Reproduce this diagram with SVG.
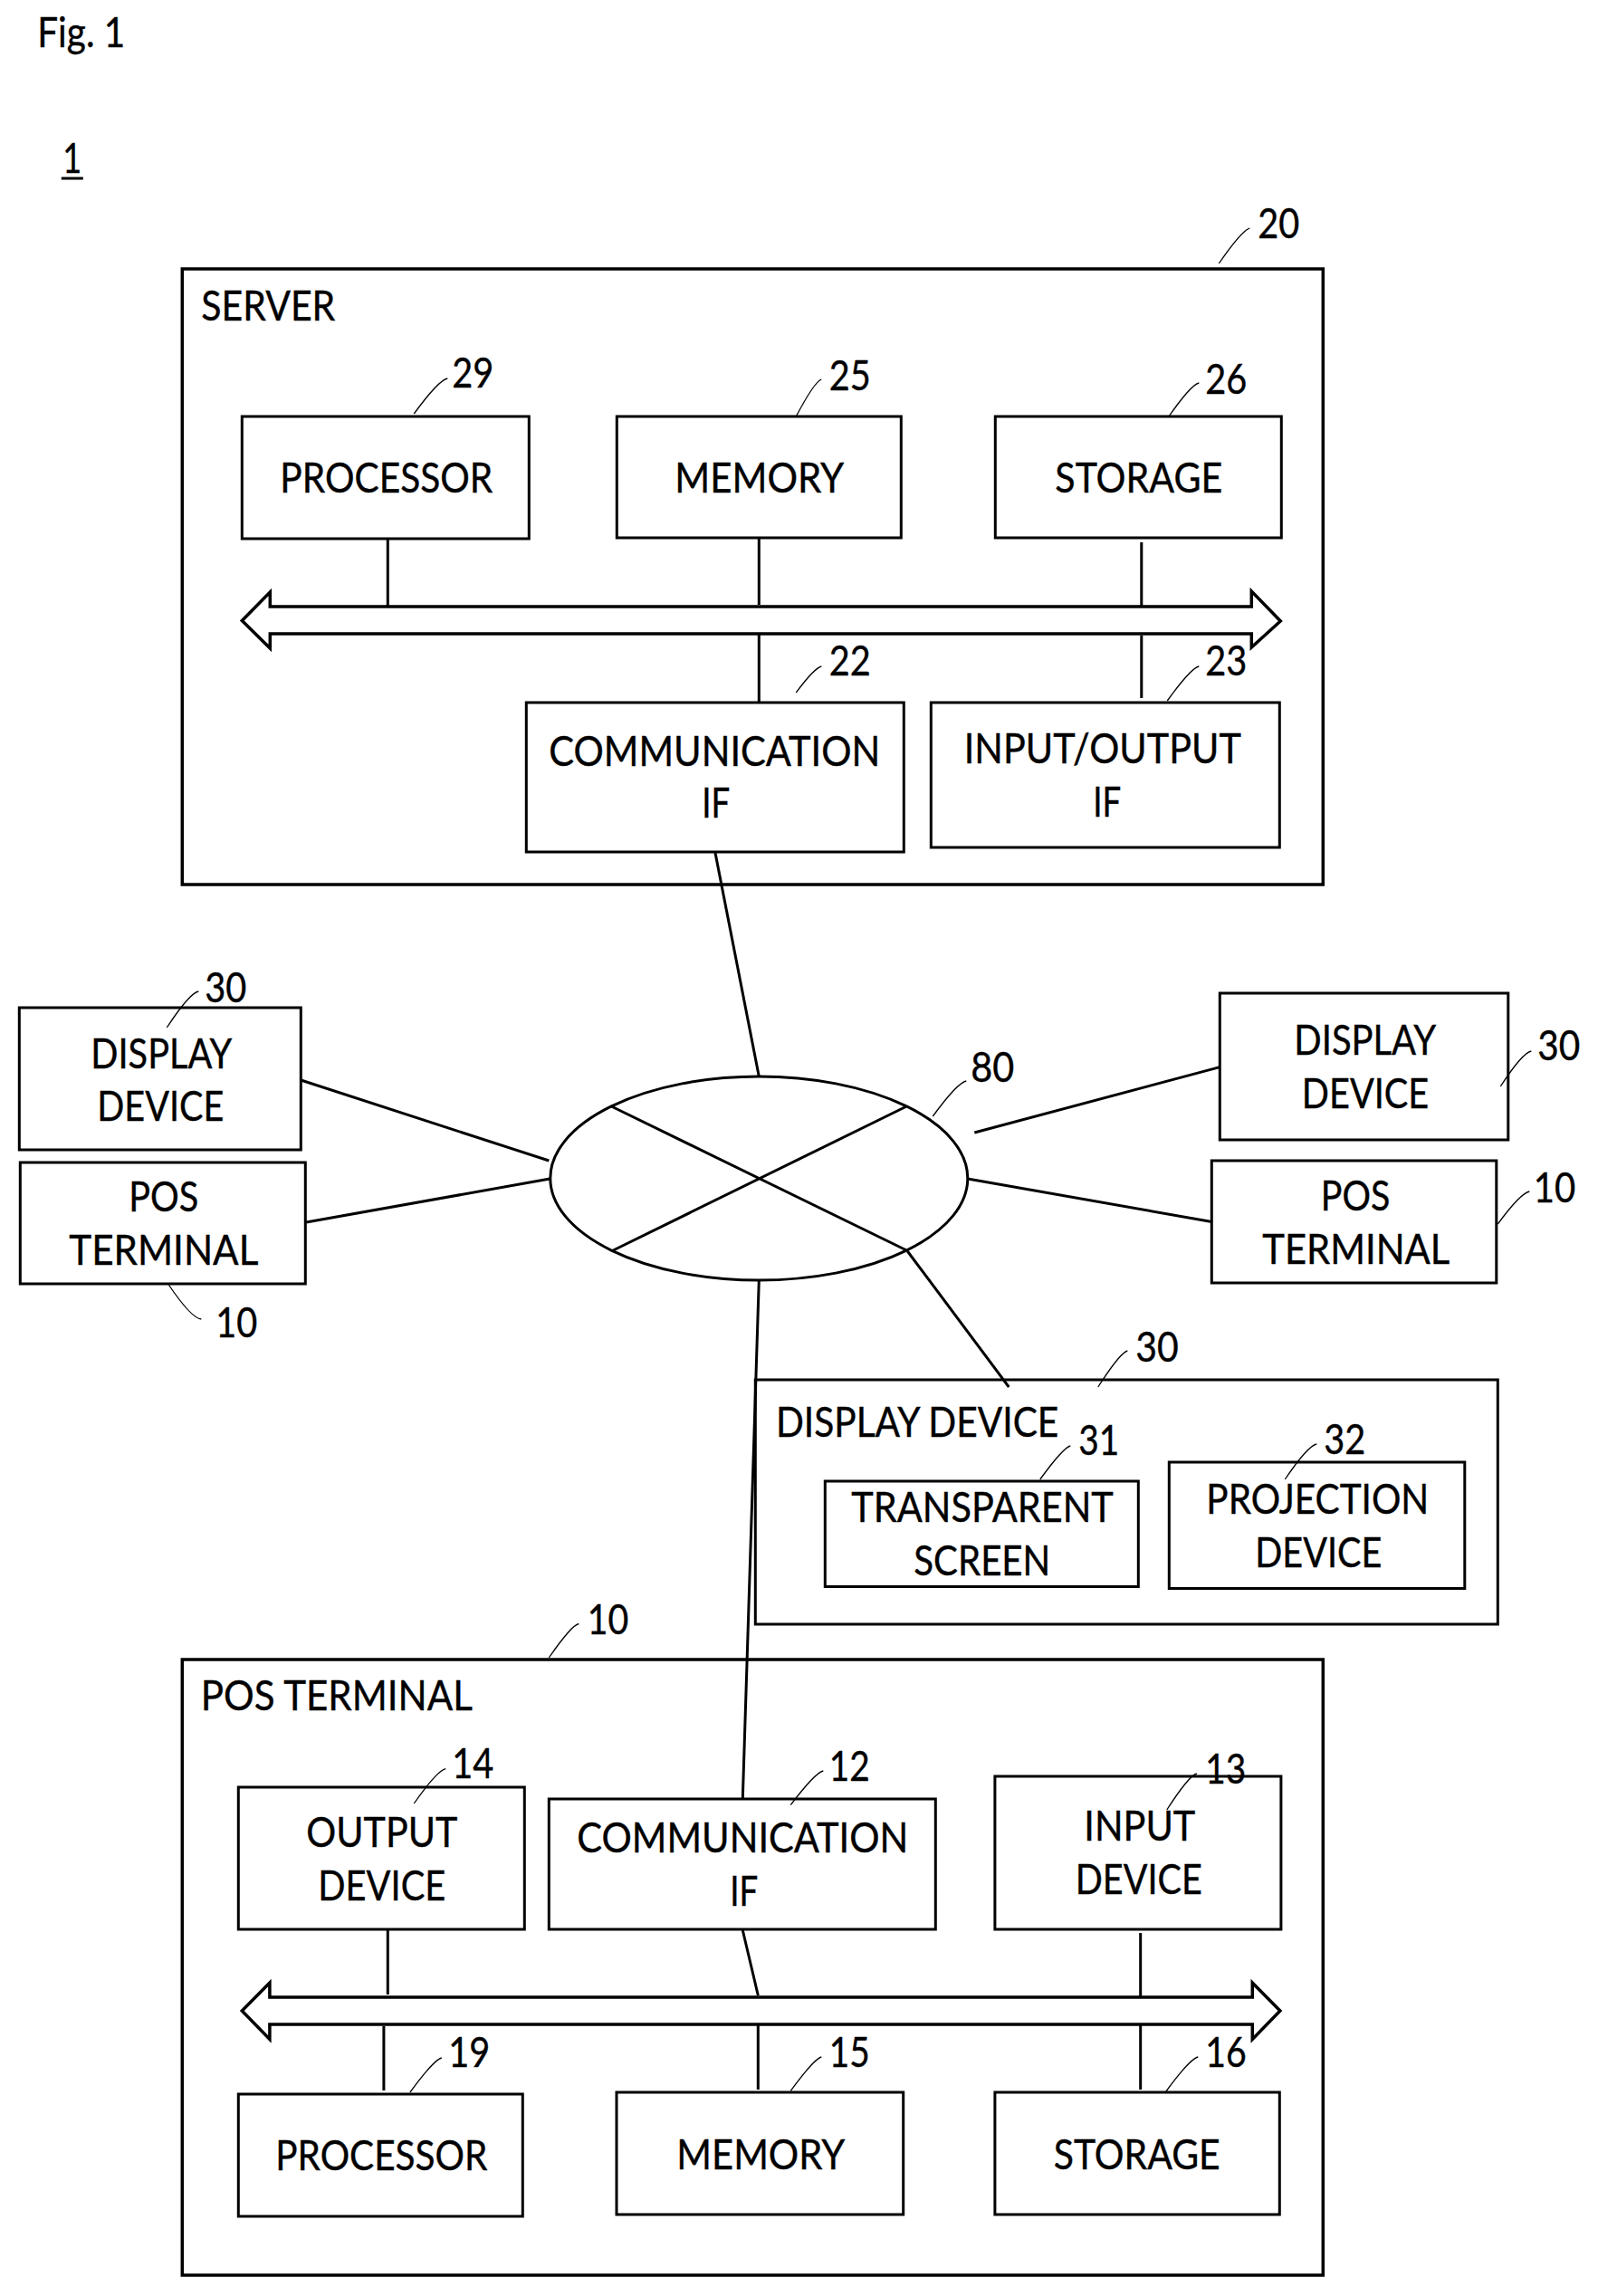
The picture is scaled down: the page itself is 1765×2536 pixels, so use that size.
<svg xmlns="http://www.w3.org/2000/svg" width="1765" height="2536" viewBox="0 0 1765 2536">
<style>
text{font-family:"Lato","Liberation Sans",sans-serif;font-size:46px;fill:#000;stroke:#000;stroke-width:.4;transform:translate(1px,1px)}
.b{fill:#fff;stroke:#000;stroke-width:3}
.o{fill:none;stroke:#000;stroke-width:3.5}
.c{fill:none;stroke:#000;stroke-width:3}
.l{fill:none;stroke:#000;stroke-width:1.3}
.bus{fill:#fff;stroke:#000;stroke-width:3.5}
</style>
<rect width="1765" height="2536" fill="#fff"/>
<g transform="translate(-0.7 0)">
<g id="captions">
<text x="41" y="51" textLength="97" lengthAdjust="spacingAndGlyphs">Fig. 1</text>
<text x="69" y="190" textLength="21" lengthAdjust="spacingAndGlyphs">1</text>
<path class="c" d="M68.500 197H92.500"/>
</g>
<g id="server">
<rect class="o" x="202" y="297" width="1260" height="680"/>
<text x="222" y="353" textLength="148" lengthAdjust="spacingAndGlyphs">SERVER</text>
<path class="l" d="M1347 291Q1372 255 1381 252"/><text x="1389" y="262" textLength="46" lengthAdjust="spacingAndGlyphs">20</text>
</g>
<g id="connectors">
<path class="c" d="M429 595V670M839 595V668M839 700V775M1261.500 599V669M1261.500 702V771"/>
<path class="bus" d="M268 685.500L299 654V670H1383V653L1415 686L1383 715V700H299V716Z"/>
<path class="c" d="M790.500 941L839 1189"/>
<path class="c" d="M333 1193L607 1282M339 1350L608 1302M1077 1251L1348 1178.600M1069.500 1302L1339 1349.500"/>
<path class="c" d="M429 2131V2203M821 2132L838 2204M1260.400 2135V2206M424.600 2238V2309M838 2235V2308M1260.400 2237V2308"/>
<path class="bus" d="M268 2221L298.600 2190V2206H1384V2190L1414.600 2221L1384 2252.500V2236H298.600V2252.500Z"/>
</g>
<g id="processor-29">
<rect class="b" x="268" y="460" width="317" height="135"/>
<text x="309" y="543" textLength="235" lengthAdjust="spacingAndGlyphs">PROCESSOR</text>
<path class="l" d="M458 457Q485 420 495 418"/><text x="499" y="427" textLength="46" lengthAdjust="spacingAndGlyphs">29</text>
</g>
<g id="memory-25">
<rect class="b" x="682" y="460" width="314" height="134"/>
<text x="745" y="543" textLength="187" lengthAdjust="spacingAndGlyphs">MEMORY</text>
<path class="l" d="M880 460Q900 422 908 419"/><text x="915.500" y="430" textLength="46" lengthAdjust="spacingAndGlyphs">25</text>
</g>
<g id="storage-26">
<rect class="b" x="1100" y="460" width="316" height="134"/>
<text x="1165" y="543" textLength="185" lengthAdjust="spacingAndGlyphs">STORAGE</text>
<path class="l" d="M1291 461Q1316 425 1325 423"/><text x="1331" y="434" textLength="46" lengthAdjust="spacingAndGlyphs">26</text>
</g>
<g id="comm-22">
<rect class="b" x="582" y="776" width="417" height="165"/>
<text x="606" y="845" textLength="366" lengthAdjust="spacingAndGlyphs">COMMUNICATION</text>
<text x="775" y="902" textLength="31" lengthAdjust="spacingAndGlyphs">IF</text>
<path class="l" d="M880 765Q900 738 908 736"/><text x="915.500" y="745" textLength="46" lengthAdjust="spacingAndGlyphs">22</text>
</g>
<g id="io-23">
<rect class="b" x="1029" y="776" width="385" height="160"/>
<text x="1064.500" y="842" textLength="306" lengthAdjust="spacingAndGlyphs">INPUT/OUTPUT</text>
<text x="1207" y="901" textLength="31" lengthAdjust="spacingAndGlyphs">IF</text>
<path class="l" d="M1290 774Q1316 738 1325 736"/><text x="1331" y="745" textLength="46" lengthAdjust="spacingAndGlyphs">23</text>
</g>
<g id="network-80">
<ellipse class="c" cx="839" cy="1301.500" rx="230.500" ry="112.500"/>
<path class="c" d="M676 1222L1002 1381M676 1382L1002 1222"/>
<path class="l" d="M1031 1233Q1058 1196 1068 1194"/><text x="1072" y="1194" textLength="48" lengthAdjust="spacingAndGlyphs">80</text>
</g>
<g id="display-left-30">
<rect class="b" x="22" y="1113" width="311" height="157"/>
<text x="100" y="1178.600" textLength="156" lengthAdjust="spacingAndGlyphs">DISPLAY</text>
<text x="107" y="1237" textLength="140" lengthAdjust="spacingAndGlyphs">DEVICE</text>
<path class="l" d="M185 1135Q210 1097 220 1095"/><text x="226" y="1105.600" textLength="46" lengthAdjust="spacingAndGlyphs">30</text>
</g>
<g id="pos-left-10">
<rect class="b" x="23" y="1284" width="315" height="134"/>
<text x="142" y="1337" textLength="77" lengthAdjust="spacingAndGlyphs">POS</text>
<text x="76" y="1396" textLength="209" lengthAdjust="spacingAndGlyphs">TERMINAL</text>
<path class="l" d="M187 1419Q212 1456 223 1457"/><text x="238" y="1475.500" textLength="46" lengthAdjust="spacingAndGlyphs">10</text>
</g>
<g id="display-right-30">
<rect class="b" x="1348" y="1097" width="318.500" height="162"/>
<text x="1429" y="1164" textLength="157" lengthAdjust="spacingAndGlyphs">DISPLAY</text>
<text x="1437.500" y="1223" textLength="140.500" lengthAdjust="spacingAndGlyphs">DEVICE</text>
<path class="l" d="M1658 1200Q1682 1163 1692 1161"/><text x="1698" y="1170" textLength="47" lengthAdjust="spacingAndGlyphs">30</text>
</g>
<g id="pos-right-10">
<rect class="b" x="1339" y="1282" width="314.500" height="135"/>
<text x="1458.500" y="1336" textLength="76.500" lengthAdjust="spacingAndGlyphs">POS</text>
<text x="1394" y="1395" textLength="207" lengthAdjust="spacingAndGlyphs">TERMINAL</text>
<path class="l" d="M1655 1352Q1680 1318 1690 1316"/><text x="1693.500" y="1326.500" textLength="46.500" lengthAdjust="spacingAndGlyphs">10</text>
</g>
<g id="display-30">
<rect class="b" x="835" y="1524" width="820" height="270"/>
<text x="856.600" y="1586" textLength="312.400" lengthAdjust="spacingAndGlyphs">DISPLAY DEVICE</text>
<path class="l" d="M1213.500 1532Q1238 1494 1246 1492"/><text x="1254" y="1502.500" textLength="47.500" lengthAdjust="spacingAndGlyphs">30</text>
</g>
<g id="screen-31">
<rect class="b" x="912" y="1636" width="346" height="116.500"/>
<text x="940" y="1680" textLength="289.500" lengthAdjust="spacingAndGlyphs">TRANSPARENT</text>
<text x="1009" y="1739" textLength="151" lengthAdjust="spacingAndGlyphs">SCREEN</text>
<path class="l" d="M1149.500 1634Q1175 1599 1183 1597"/><text x="1191" y="1605.600" textLength="45" lengthAdjust="spacingAndGlyphs">31</text>
</g>
<g id="projection-32">
<rect class="b" x="1292" y="1615" width="326.500" height="139.500"/>
<text x="1332" y="1671" textLength="246" lengthAdjust="spacingAndGlyphs">PROJECTION</text>
<text x="1386" y="1730" textLength="140" lengthAdjust="spacingAndGlyphs">DEVICE</text>
<path class="l" d="M1420 1634Q1445 1597 1455 1595"/><text x="1462" y="1604.600" textLength="46" lengthAdjust="spacingAndGlyphs">32</text>
</g>
<g id="pos-10">
<rect class="o" x="202" y="1833" width="1260" height="680"/>
<text x="221.500" y="1887.500" textLength="300" lengthAdjust="spacingAndGlyphs">POS TERMINAL</text>
<path class="l" d="M607 1831Q632 1795 640 1793.500"/><text x="648.500" y="1804" textLength="45.500" lengthAdjust="spacingAndGlyphs">10</text>
</g>
<g id="output-14">
<rect class="b" x="264" y="1974" width="316" height="157"/>
<text x="338" y="2039" textLength="167" lengthAdjust="spacingAndGlyphs">OUTPUT</text>
<text x="351" y="2098" textLength="141" lengthAdjust="spacingAndGlyphs">DEVICE</text>
<path class="l" d="M458 1992Q484 1955 493 1953.600"/><text x="499" y="1963" textLength="46" lengthAdjust="spacingAndGlyphs">14</text>
</g>
<g id="comm-12">
<rect class="b" x="607" y="1987" width="427" height="144"/>
<text x="637" y="2045" textLength="366" lengthAdjust="spacingAndGlyphs">COMMUNICATION</text>
<text x="806" y="2104" textLength="31" lengthAdjust="spacingAndGlyphs">IF</text>
<path class="l" d="M874 1993.600Q901 1958 910 1956"/><text x="915.500" y="1965.600" textLength="45" lengthAdjust="spacingAndGlyphs">12</text>
</g>
<g id="input-13">
<rect class="b" x="1099.600" y="1962" width="316" height="169"/>
<text x="1197" y="2032" textLength="123" lengthAdjust="spacingAndGlyphs">INPUT</text>
<text x="1187.500" y="2091" textLength="140" lengthAdjust="spacingAndGlyphs">DEVICE</text>
<path class="l" d="M1289.500 1999Q1314 1961 1322.600 1959"/><text x="1331" y="1969" textLength="45" lengthAdjust="spacingAndGlyphs">13</text>
</g>
<g id="processor-19">
<rect class="b" x="264" y="2313" width="314" height="135"/>
<text x="304" y="2396" textLength="234" lengthAdjust="spacingAndGlyphs">PROCESSOR</text>
<path class="l" d="M453.600 2311Q480 2275 488.500 2273"/><text x="495" y="2282" textLength="46" lengthAdjust="spacingAndGlyphs">19</text>
</g>
<g id="memory-15">
<rect class="b" x="681.700" y="2311" width="316.700" height="135"/>
<text x="747" y="2395" textLength="186" lengthAdjust="spacingAndGlyphs">MEMORY</text>
<path class="l" d="M874 2309.400Q900 2274 908 2272"/><text x="915.500" y="2281.500" textLength="45" lengthAdjust="spacingAndGlyphs">15</text>
</g>
<g id="storage-16">
<rect class="b" x="1099.600" y="2311" width="314.400" height="135"/>
<text x="1163.400" y="2395" textLength="184" lengthAdjust="spacingAndGlyphs">STORAGE</text>
<path class="l" d="M1288.600 2310Q1315 2274 1324 2272"/><text x="1331" y="2281.500" textLength="45.500" lengthAdjust="spacingAndGlyphs">16</text>
</g>
<g id="connectors-over-boxes">
<path class="c" d="M839 1414L821 1987M1003 1382L1115 1532"/>
</g>
</g>
</svg>
